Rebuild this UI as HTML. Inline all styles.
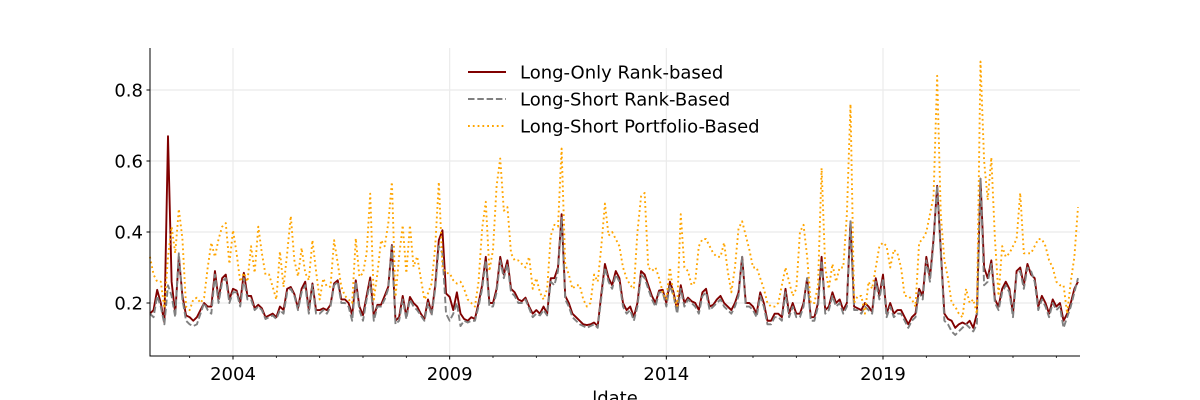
<!DOCTYPE html>
<html><head><meta charset="utf-8"><style>
html,body{margin:0;padding:0;background:#fff;}
svg{display:block;font-family:"DejaVu Sans","Liberation Sans",sans-serif;}
</style></head><body>
<svg id="chart" width="1200" height="400" viewBox="0 0 1200 400" xmlns="http://www.w3.org/2000/svg">
<g id="grid"></g>
<g id="series"></g>
<g id="axes"></g>
<g id="legend"></g>
</svg>
<script>
const startYear = 2002, startMonth = 2;
const longOnly = [.17,.18,.237,.2,.145,.67,.26,.17,.33,.22,.165,.16,.15,.16,.18,.2,.19,.19,.29,.21,.27,.28,.21,.24,.235,.2,.285,.22,.22,.185,.195,.185,.16,.165,.17,.16,.19,.18,.24,.245,.225,.185,.24,.26,
.18,.255,.18,.18,.185,.18,.195,.255,.264,.21,.21,.2,.166,.264,.19,.166,.22,.272,.162,.195,.195,.22,.246,.363,.15,.16,.22,.162,.217,.2,.19,.17,.155,.21,.17,.25,.377,.405,.227,.217,.18,
.23,.17,.155,.15,.16,.155,.2,.25,.33,.2,.2,.24,.33,.28,.32,.24,.23,.21,.205,.215,.19,.17,.18,.17,.19,.17,.27,.27,.3,.45,.22,.2,.17,.16,.15,.14,.138,.14,.145,.135,.225,.31,.27,
.25,.29,.27,.2,.18,.19,.16,.2,.29,.28,.25,.22,.2,.235,.237,.2,.26,.23,.18,.25,.2,.215,.205,.2,.18,.23,.24,.19,.195,.21,.22,.2,.19,.18,.2,.23,.33,.2,.2,.19,.17,.23,.2,.15,
.15,.17,.17,.16,.24,.17,.2,.17,.17,.2,.27,.16,.16,.2,.33,.18,.19,.23,.2,.21,.18,.2,.43,.19,.185,.18,.2,.19,.175,.27,.22,.28,.17,.2,.17,.18,.18,.16,.14,.16,.17,.24,.22,
.33,.27,.38,.53,.35,.17,.155,.15,.13,.14,.145,.14,.15,.13,.17,.55,.3,.27,.32,.21,.19,.24,.26,.24,.17,.29,.3,.25,.31,.28,.27,.19,.22,.2,.17,.21,.19,.2,.15,.17,.2,.24,.26];
const longShortRank = [.17,.16,.22,.19,.14,.25,.22,.16,.34,.21,.15,.14,.135,.14,.17,.2,.18,.17,.28,.2,.26,.27,.2,.23,.23,.19,.27,.21,.21,.18,.19,.18,.155,.16,.165,.155,.18,.17,.23,.24,.22,.18,.23,.25,
.17,.25,.17,.17,.18,.17,.19,.25,.26,.2,.2,.19,.15,.26,.18,.15,.21,.26,.15,.19,.19,.21,.24,.36,.14,.15,.21,.155,.21,.19,.18,.165,.15,.2,.165,.24,.36,.34,.17,.15,.17,
.2,.135,.15,.145,.15,.15,.19,.24,.32,.19,.19,.23,.32,.27,.31,.23,.22,.2,.2,.21,.185,.16,.17,.165,.18,.165,.26,.25,.29,.44,.21,.19,.16,.15,.14,.135,.13,.135,.14,.13,.215,.3,.26,
.24,.28,.26,.19,.17,.18,.15,.19,.28,.27,.24,.21,.19,.23,.23,.19,.25,.22,.17,.24,.19,.21,.2,.19,.17,.22,.23,.18,.19,.2,.21,.19,.18,.17,.19,.22,.33,.19,.19,.18,.16,.22,.19,.14,
.14,.16,.16,.15,.23,.16,.19,.16,.16,.19,.27,.15,.15,.19,.32,.17,.18,.22,.19,.2,.17,.19,.43,.18,.18,.17,.19,.18,.17,.26,.21,.27,.16,.19,.16,.17,.17,.15,.13,.15,.16,.23,.21,
.32,.26,.37,.53,.34,.15,.14,.12,.11,.12,.13,.14,.13,.12,.14,.55,.25,.26,.31,.2,.18,.23,.25,.23,.16,.28,.29,.24,.3,.29,.26,.18,.21,.19,.16,.2,.18,.19,.13,.16,.19,.23,.27];
const portfolio = [.33,.28,.26,.26,.185,.33,.415,.34,.465,.38,.19,.18,.21,.215,.2,.215,.3,.37,.33,.38,.415,.425,.31,.405,.34,.26,.285,.26,.36,.285,.415,.34,.28,.28,.245,.21,.345,.245,.34,.445,.32,.275,.355,.285,
.264,.377,.29,.21,.269,.246,.246,.377,.312,.246,.22,.21,.2,.382,.274,.284,.34,.508,.21,.284,.377,.36,.424,.541,.217,.331,.419,.284,.419,.302,.331,.27,.21,.227,.255,.359,.541,.302,.284,.284,.264,
.255,.26,.24,.21,.2,.19,.26,.41,.485,.29,.35,.53,.607,.46,.47,.34,.32,.32,.31,.3,.33,.24,.27,.23,.21,.24,.39,.42,.415,.635,.31,.28,.24,.25,.25,.21,.19,.2,.28,.26,.36,.48,.39,
.4,.38,.36,.3,.27,.25,.24,.4,.5,.51,.3,.29,.3,.27,.23,.21,.3,.22,.19,.45,.3,.29,.25,.26,.36,.38,.38,.36,.34,.33,.33,.37,.29,.23,.3,.41,.43,.39,.35,.3,.3,.27,.24,.2,
.19,.19,.2,.25,.3,.26,.22,.24,.4,.42,.33,.2,.2,.25,.58,.3,.24,.31,.26,.3,.3,.45,.76,.2,.22,.22,.17,.26,.24,.3,.36,.37,.36,.3,.35,.34,.3,.22,.22,.21,.19,.37,.38,
.4,.45,.5,.84,.45,.32,.27,.2,.19,.17,.16,.24,.2,.21,.17,.88,.6,.49,.61,.38,.22,.36,.33,.34,.36,.38,.51,.34,.34,.34,.36,.38,.38,.36,.32,.3,.26,.25,.25,.17,.26,.33,.47];
const yTicks = [0.2, 0.4, 0.6, 0.8];
const yTickLabels = ["0.2", "0.4", "0.6", "0.8"];
const xTickYears = [2004, 2009, 2014, 2019];
const xTickLabels = ["2004", "2009", "2014", "2019"];
const minorYears = [2003,2005,2006,2007,2008,2010,2011,2012,2013,2015,2016,2017,2018,2020,2021,2022,2023];
const seriesNames = ["Long-Only Rank-based", "Long-Short Rank-Based", "Long-Short Portfolio-Based"];

const L = 150, R = 1080, T = 48, B = 356;
function xs(t) { return 233 + (t - 2004) * 43.333; }
function ys(v) { return 303 - (v - 0.2) * 355; }
function tOf(i) { return startYear + (startMonth - 1 + i) / 12; }
const NS = "http://www.w3.org/2000/svg";
function mk(tag, attrs, parent) {
  const e = document.createElementNS(NS, tag);
  for (const k in attrs) e.setAttribute(k, attrs[k]);
  parent.appendChild(e);
  return e;
}
const grid = document.getElementById('grid');
const axes = document.getElementById('axes');
const series = document.getElementById('series');
const legend = document.getElementById('legend');

yTicks.forEach((v, k) => {
  const g = mk('line', {x1: L, x2: R, y1: ys(v), y2: ys(v), stroke: '#ebebeb', 'stroke-width': 1.2}, grid);
  
  
  const t = mk('line', {x1: L - 3.5, x2: L, y1: ys(v), y2: ys(v), stroke: '#000', 'stroke-width': 1}, axes);
  
  
  const lb = mk('text', {x: L - 7, y: ys(v) + 6.5, 'text-anchor': 'end', 'font-size': 18, fill: '#000'}, axes);
  lb.textContent = yTickLabels[k];
  
  
});
xTickYears.forEach((yr, k) => {
  const x = xs(yr);
  const g = mk('line', {x1: x, x2: x, y1: T, y2: B, stroke: '#ebebeb', 'stroke-width': 1.2}, grid);
  
  
  const t = mk('line', {x1: x, x2: x, y1: B, y2: B + 3.5, stroke: '#000', 'stroke-width': 1}, axes);
  
  
  const lb = mk('text', {x: x, y: B + 24, 'text-anchor': 'middle', 'font-size': 18, fill: '#000'}, axes);
  lb.textContent = xTickLabels[k];
  
  
});
minorYears.forEach(yr => {
  const x = xs(yr);
  if (x < L || x > R) return;
  const t = mk('line', {x1: x, x2: x, y1: B, y2: B + 2, stroke: '#000', 'stroke-width': 0.8}, axes);
  
  
});
const sp1 = mk('line', {x1: L, x2: L, y1: T, y2: B + 0.5, stroke: '#000', 'stroke-width': 1}, axes);


const sp2 = mk('line', {x1: L - 0.5, x2: R, y1: B, y2: B, stroke: '#000', 'stroke-width': 1}, axes);


const xt = mk('text', {x: 615, y: 404, 'text-anchor': 'middle', 'font-size': 18, fill: '#000'}, axes);
xt.textContent = 'ldate';



const styles = [
  {stroke: '#800000', dash: ''},
  {stroke: '#808080', dash: '6.5 2.8'},
  {stroke: '#ffa500', dash: '1.8 3'}
];
const datasets = [longOnly, longShortRank, portfolio];
const seriesIds = ['long-only-rank-line', 'long-short-rank-line', 'long-short-portfolio-line'];
datasets.forEach((arr, s) => {
  const d = arr.map((v, i) => (i ? 'L' : 'M') + xs(tOf(i)).toFixed(2) + ',' + ys(v).toFixed(2)).join('');
  const p = mk('path', {d: d, fill: 'none', stroke: styles[s].stroke, 'stroke-width': 1.9, 'stroke-linejoin': 'round'}, series);
  if (styles[s].dash) p.setAttribute('stroke-dasharray', styles[s].dash);
  
  
});

seriesNames.forEach((name, s) => {
  const y = 72 + s * 27;
  const ln = mk('line', {x1: 468, x2: 506, y1: y, y2: y, stroke: styles[s].stroke, 'stroke-width': 1.9}, legend);
  if (styles[s].dash) ln.setAttribute('stroke-dasharray', styles[s].dash);
  
  
  const tx = mk('text', {x: 520, y: y + 6.5, 'font-size': 18, fill: '#000'}, legend);
  tx.textContent = name;
  
  
});
</script>
</body></html>
